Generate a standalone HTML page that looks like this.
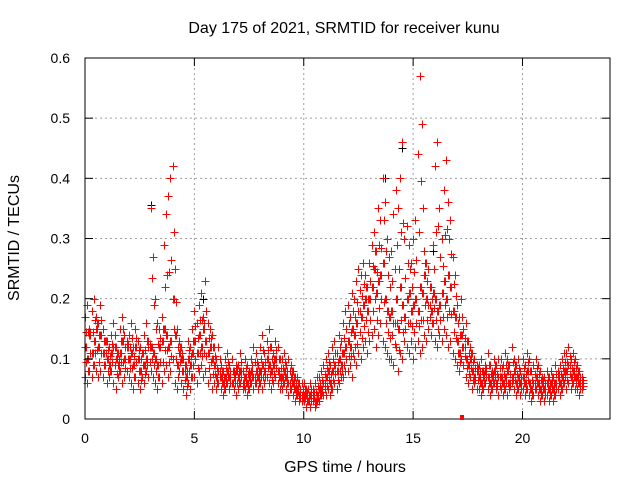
<!DOCTYPE html>
<html><head><meta charset="utf-8"><style>
body{margin:0;background:#fff}
svg{display:block;font-family:"Liberation Sans",sans-serif}
</style></head><body>
<svg id="chart" width="640" height="480" viewBox="0 0 640 480">
<rect width="640" height="480" fill="#fff"/>
<text x="344" y="33" font-size="16" text-anchor="middle">Day 175 of 2021, SRMTID for receiver kunu</text>
<g id="grid"></g>
<g id="blackpts"></g>
<g id="redpts"></g>
<rect x="85" y="58" width="525" height="361" fill="none" stroke="#000" stroke-width="1"/>
<g id="axes"></g>
<text x="345" y="472" font-size="16" text-anchor="middle">GPS time / hours</text>
<text transform="translate(19,238) rotate(-90)" font-size="16" text-anchor="middle">SRMTID / TECUs</text>
<rect x="460" y="415" width="4" height="5" fill="#f00"/>
</svg>
<script>
const xTicks=[0,5,10,15,20];
const yTicks=[0,0.1,0.2,0.3,0.4,0.5,0.6];
const yTickLabels=["0","0.1","0.2","0.3","0.4","0.5","0.6"];
const vLow=[.07,.06,.08,.07,.09,.08,.07,.08,.07,.09,
.06,.07,.08,.06,.05,.07,.08,.06,.07,.08,
.07,.06,.05,.07,.06,.05,.07,.06,.08,.07,
.08,.07,.06,.05,.07,.06,.08,.09,.07,.08,
.10,.06,.05,.08,.06,.05,.04,.06,.05,.07,
.07,.06,.08,.09,.07,.08,.06,.07,.05,.06,
.05,.06,.05,.04,.05,.06,.05,.06,.05,.04,
.05,.06,.05,.05,.04,.05,.06,.05,.06,.05,
.06,.05,.06,.07,.06,.05,.06,.07,.06,.05,
.05,.06,.05,.04,.05,.04,.03,.04,.03,.03,
.03,.02,.03,.02,.03,.02,.03,.03,.04,.04,
.04,.05,.04,.05,.06,.05,.06,.07,.07,.08,
.08,.09,.07,.10,.09,.11,.10,.12,.13,.11,
.13,.14,.15,.12,.14,.16,.13,.12,.11,.10,
.10,.09,.12,.08,.11,.10,.13,.12,.11,.13,
.10,.12,.13,.11,.12,.14,.13,.15,.14,.16,
.13,.12,.14,.13,.15,.14,.12,.13,.11,.10,
.09,.08,.10,.09,.07,.06,.07,.05,.06,.05,
.05,.04,.05,.06,.05,.04,.05,.06,.05,.04,
.05,.04,.05,.04,.05,.06,.05,.04,.05,.04,
.05,.04,.05,.04,.03,.04,.05,.04,.03,.04,
.03,.04,.03,.04,.03,.04,.05,.04,.05,.06,
.05,.06,.05,.06,.05,.05,.04,.05];
const vMid=[.12,.10,.14,.11,.13,.15,.12,.14,.11,.13,
.10,.09,.11,.12,.10,.09,.11,.13,.10,.12,
.10,.11,.09,.12,.10,.08,.11,.09,.10,.12,
.12,.11,.10,.09,.12,.13,.15,.14,.12,.13,
.20,.14,.09,.11,.10,.08,.07,.10,.09,.11,
.13,.11,.14,.12,.15,.13,.11,.12,.10,.09,
.07,.08,.07,.06,.07,.08,.07,.06,.07,.08,
.07,.08,.06,.07,.06,.07,.08,.07,.08,.07,
.08,.09,.08,.10,.09,.08,.09,.10,.08,.07,
.07,.08,.07,.06,.07,.06,.05,.05,.04,.04,
.04,.04,.03,.04,.04,.03,.04,.05,.05,.06,
.07,.08,.06,.08,.09,.08,.10,.09,.11,.12,
.13,.12,.15,.14,.16,.18,.17,.19,.20,.18,
.20,.22,.25,.21,.23,.24,.26,.20,.18,.17,
.18,.16,.20,.15,.22,.19,.17,.20,.21,.18,
.19,.20,.18,.22,.21,.24,.20,.19,.18,.21,
.20,.18,.19,.21,.23,.20,.24,.22,.18,.17,
.13,.11,.14,.12,.10,.09,.10,.08,.07,.08,
.07,.06,.07,.08,.07,.06,.07,.08,.06,.07,
.07,.06,.07,.08,.06,.07,.08,.06,.07,.06,
.07,.06,.08,.06,.05,.06,.07,.06,.05,.06,
.05,.06,.05,.06,.05,.06,.07,.06,.07,.08,
.08,.09,.07,.08,.07,.07,.06,.06];
const vHigh=[.17,.19,.15,.18,.20,.17,.16,.19,.15,.13,
.13,.12,.14,.16,.12,.11,.15,.17,.14,.13,
.14,.16,.12,.15,.13,.12,.11,.14,.16,.13,
.35,.27,.20,.16,.15,.17,.29,.34,.37,.40,
.42,.25,.15,.13,.12,.10,.09,.13,.12,.15,
.18,.16,.19,.21,.17,.23,.16,.15,.14,.12,
.10,.12,.09,.08,.10,.11,.09,.10,.08,.09,
.09,.11,.08,.10,.09,.08,.10,.12,.11,.09,
.12,.14,.11,.13,.15,.12,.11,.13,.12,.10,
.10,.11,.09,.10,.09,.08,.07,.07,.06,.06,
.06,.05,.05,.06,.05,.06,.07,.07,.08,.09,
.10,.11,.09,.12,.13,.11,.14,.13,.16,.18,
.19,.17,.21,.20,.23,.25,.24,.26,.24,.22,
.26,.29,.31,.28,.35,.33,.40,.36,.30,.27,
.28,.34,.38,.35,.40,.46,.30,.32,.29,.26,
.30,.33,.44,.57,.49,.28,.26,.25,.22,.29,
.42,.46,.35,.30,.38,.43,.36,.33,.27,.24,
.19,.17,.20,.15,.16,.13,.12,.11,.10,.09,
.09,.10,.08,.09,.11,.09,.08,.10,.09,.10,
.10,.09,.11,.10,.09,.12,.10,.09,.10,.08,
.10,.09,.11,.10,.08,.09,.10,.09,.08,.07,
.07,.08,.07,.08,.07,.09,.08,.09,.10,.11,
.11,.12,.10,.11,.10,.09,.08,.07];
const blackT=[3.0,5.4,13.7,14.5,15.9];
const blackV=[0.355,0.20,0.40,0.45,0.28];
const X0=85,X1=610,Y0=419,Y1=58,XMAX=24,YMAX=0.6;
const dt=0.1;
function xs(t){return X0+(X1-X0)*t/XMAX;}
function ys(v){return Y0-(Y0-Y1)*v/YMAX;}
const NS="http://www.w3.org/2000/svg";
function mk(tag,attrs,parent){const e=document.createElementNS(NS,tag);for(const k in attrs)e.setAttribute(k,attrs[k]);parent.appendChild(e);return e;}
const grid=document.getElementById('grid'),axes=document.getElementById('axes');
yTicks.forEach((v,i)=>{
  const y=ys(v);
  if(i>0&&i<yTicks.length-1){const g=mk('line',{x1:X0,x2:X1,y1:y,y2:y,stroke:'#a0a0a0','stroke-dasharray':'2,3'},grid);
  
  }
  mk('line',{x1:X0,x2:X0+8,y1:y,y2:y,stroke:'#000'},axes);
  mk('line',{x1:X1-8,x2:X1,y1:y,y2:y,stroke:'#000'},axes);
  const t=mk('text',{x:70,y:y+5,'font-size':14,'text-anchor':'end'},axes);
  t.textContent=yTickLabels[i];
  
  
});
xTicks.forEach(v=>{
  const x=xs(v);
  if(v>0){const g=mk('line',{x1:x,x2:x,y1:Y1,y2:Y0,stroke:'#a0a0a0','stroke-dasharray':'2,3'},grid);
  
  }
  mk('line',{x1:x,x2:x,y1:Y0,y2:Y0-8,stroke:'#000'},axes);
  mk('line',{x1:x,x2:x,y1:Y1,y2:Y1+8,stroke:'#000'},axes);
  const t=mk('text',{x:x,y:443,'font-size':14,'text-anchor':'middle'},axes);
  t.textContent=String(v);
  
  
});
function plus(g,t,v,col,name){
  const x=Math.round(xs(t))+0.5,y=Math.round(ys(v))+0.5;
  const p=mk('path',{d:`M${x-4},${y}H${x+4}M${x},${y-4}V${y+4}`,stroke:col,'stroke-width':1,fill:'none'},g);
  
  
}
const bg=document.getElementById('blackpts');
blackT.forEach((t,i)=>plus(bg,t,blackV[i],'#000','black-point'));
const rg=document.getElementById('redpts');
[vLow,vMid,vHigh].forEach(arr=>arr.forEach((v,i)=>{
  plus(rg,i*dt,v,'#f00','red-point');
  plus(rg,i*dt+0.05,(v+vMid[i])/2,'#f00','red-point');
}));
</script>
</body></html>
